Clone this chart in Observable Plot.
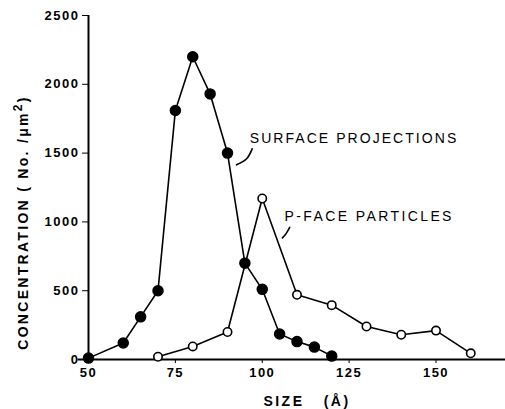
<!DOCTYPE html>
<html>
<head>
<meta charset="utf-8">
<script src="https://cdn.jsdelivr.net/npm/d3@7"></script>
<script src="https://cdn.jsdelivr.net/npm/@observablehq/plot@0.6"></script>
<style>
  html, body { margin: 0; padding: 0; background: #fff; }
  svg { display: block; }
</style>
</head>
<body>
<div id="chart"></div>
<script>
// Surface projections (filled circles)
const surfaceSize = [50, 60, 65, 70, 75, 80, 85, 90, 95, 100, 105, 110, 115, 120];
const surfaceConc = [10, 120, 310, 500, 1810, 2200, 1930, 1500, 700, 510, 185, 130, 90, 25];
// P-face particles (open circles)
const pfaceSize = [70, 80, 90, 100, 110, 120, 130, 140, 150, 160];
const pfaceConc = [20, 95, 200, 1170, 470, 395, 240, 180, 210, 45];

const xTicks = [50, 75, 100, 125, 150];
const yTicks = [0, 500, 1000, 1500, 2000, 2500];

const xTitle = "SIZE   (Å)";
const yTitle = "CONCENTRATION ( No. /μm²)";
const labels = [
  {x: 96.4, y: 1577, text: "SURFACE PROJECTIONS"},
  {x: 106.4, y: 1010, text: "P-FACE PARTICLES"}
];
// leader strokes from labels to curves (data coordinates)
const leaderSurface = [[97.1, 1531], [95.5, 1459], [92.6, 1415]];
const leaderPface = [[107.9, 961], [106.8, 913], [105.8, 884]];

const surface = surfaceSize.map((s, i) => ({x: s, y: surfaceConc[i]}));
const pface = pfaceSize.map((s, i) => ({x: s, y: pfaceConc[i]}));

const font = "'Liberation Sans', Arial, sans-serif";

const svg = Plot.plot({
  width: 505,
  height: 409,
  marginLeft: 88,
  marginRight: 0,
  marginTop: 15,
  marginBottom: 50,
  style: {fontFamily: font, background: "#fff", color: "#000"},
  x: {domain: [50, 170]},
  y: {domain: [0, 2500]},
  marks: [
    Plot.axisY({ticks: yTicks, tickSize: 6, tickPadding: 3, label: null, fontSize: 13, fontWeight: "bold", tickFormat: d3.format("d")}),
    Plot.axisX({ticks: xTicks, tickSize: 4, tickPadding: 4, label: null, fontSize: 13, fontWeight: "bold", tickFormat: d3.format("d")}),
    Plot.ruleX([50], {strokeWidth: 2}),
    Plot.ruleY([0], {x1: 47, x2: 170, strokeWidth: 2}),
    Plot.line(pface, {x: "x", y: "y", stroke: "#000", strokeWidth: 1.6}),
    Plot.line(surface, {x: "x", y: "y", stroke: "#000", strokeWidth: 1.6}),
    Plot.dot(pface, {x: "x", y: "y", r: 4.2, fill: "#fff", stroke: "#000", strokeWidth: 1.6}),
    Plot.dot(surface, {x: "x", y: "y", r: 5, fill: "#000", stroke: "#000"}),
    Plot.line(leaderSurface, {curve: "natural", strokeWidth: 1.6}),
    Plot.line(leaderPface, {curve: "natural", strokeWidth: 1.6}),
    Plot.text(labels, {x: "x", y: "y", text: "text", textAnchor: "start", lineAnchor: "bottom", fontSize: 14, fill: "#000"}),
    Plot.text([xTitle], {frameAnchor: "bottom", dy: 46, dx: 10, fontSize: 14, fontWeight: "bold", fill: "#000", textAnchor: "middle"}),
    Plot.text([yTitle], {frameAnchor: "left", dx: -65, dy: 35, rotate: -90, fontSize: 14, fontWeight: "bold", fill: "#000", textAnchor: "middle", lineAnchor: "middle"})
  ]
});

const sel = d3.select(svg).selectAll("text");
sel.filter(function() { return this.textContent === labels[0].text; }).attr("letter-spacing", "2.05px");
sel.filter(function() { return this.textContent === labels[1].text; }).attr("letter-spacing", "2.4px");
sel.filter(function() { return this.textContent === xTitle; }).attr("letter-spacing", "2.5px");
const yt = sel.filter(function() { return this.textContent === yTitle; }).attr("letter-spacing", "2.3px");
yt.each(function() {
  const t = d3.select(this);
  const [main, rest] = yTitle.split("²");
  t.text(null);
  t.append("tspan").text(main);
  t.append("tspan").attr("baseline-shift", "6px").attr("font-size", 12).text("2");
  t.append("tspan").text(rest);
});
d3.select(svg).selectAll('g[aria-label="y-axis tick label"] text, g[aria-label="x-axis tick label"] text').attr("letter-spacing", "1.5px");
document.getElementById("chart").appendChild(svg);
</script>
</body>
</html>
